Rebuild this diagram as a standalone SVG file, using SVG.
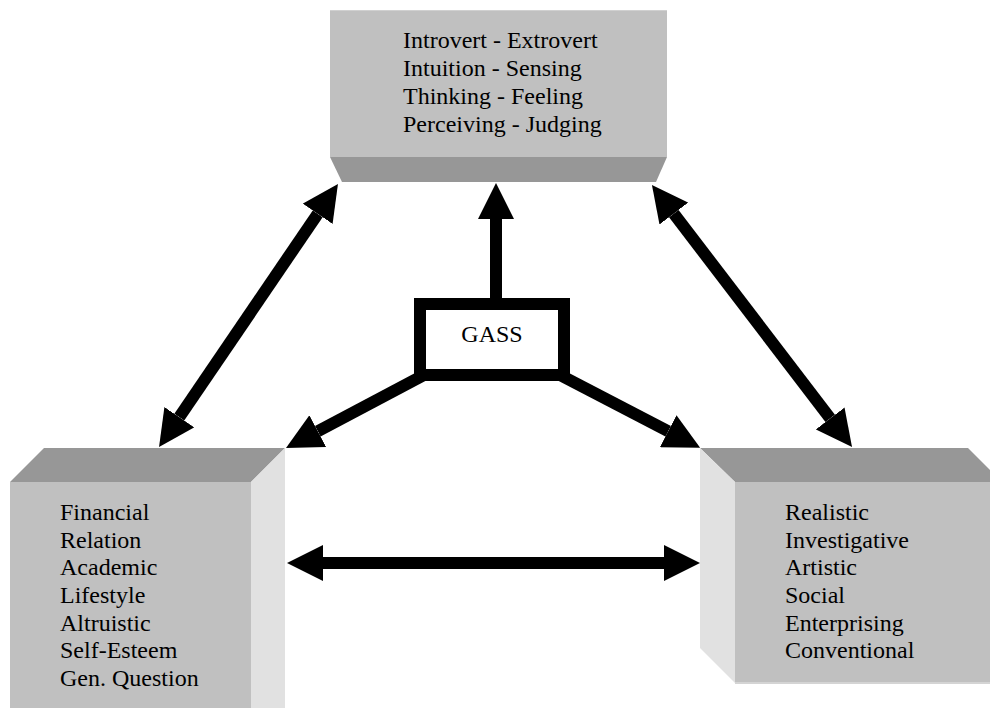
<svg xmlns="http://www.w3.org/2000/svg" width="990" height="708" viewBox="0 0 990 708">
<style>
.front{fill:#c0c0c0}
.dark{fill:#979797}
.light{fill:#e1e1e1}
.t{font-family:"Liberation Serif","Times New Roman",serif;font-size:24px;fill:#000}
.c{stroke:#000;stroke-width:12;fill:none}
</style>
<defs>
<marker id="ah" markerUnits="userSpaceOnUse" markerWidth="36" markerHeight="36" viewBox="0 -18 36 36" refX="0" refY="0" orient="auto-start-reverse">
<path d="M0,-18 L36,0 L0,18 z" fill="#000"/>
</marker>
</defs>
<rect width="990" height="708" fill="#fff"/>
<g id="mbti">
<rect class="front" x="330" y="10" width="337" height="147"/>
<line x1="330" y1="10.5" x2="667" y2="10.5" stroke="#d0d0d0" stroke-width="1"/>
<polygon class="dark" points="330,157 667,157 656,182 342,182"/>
<text class="t" x="403" y="48">Introvert - Extrovert</text>
<text class="t" x="403" y="76">Intuition - Sensing</text>
<text class="t" x="403" y="104">Thinking - Feeling</text>
<text class="t" x="403" y="132">Perceiving - Judging</text>
</g>
<g id="values">
<polygon class="dark" points="44,448 285,448 251,482 10,482"/>
<rect class="front" x="10" y="482" width="241" height="226"/>
<polygon class="light" points="251,482 285,448 285,708 251,708"/>
<text class="t" x="60" y="520">Financial</text>
<text class="t" x="60" y="548">Relation</text>
<text class="t" x="60" y="575">Academic</text>
<text class="t" x="60" y="603">Lifestyle</text>
<text class="t" x="60" y="631">Altruistic</text>
<text class="t" x="60" y="658">Self-Esteem</text>
<text class="t" x="60" y="686">Gen. Question</text>
</g>
<g id="holland">
<polygon class="dark" points="700,448 968,448 1002,482 735,482"/>
<rect class="front" x="735" y="482" width="267" height="201"/>
<line x1="735" y1="683" x2="990" y2="683" stroke="#d4d4d4" stroke-width="2"/>
<polygon class="light" points="700,448 735,482 735,683 700,648"/>
<text class="t" x="785" y="520">Realistic</text>
<text class="t" x="785" y="548">Investigative</text>
<text class="t" x="785" y="575">Artistic</text>
<text class="t" x="785" y="603">Social</text>
<text class="t" x="785" y="631">Enterprising</text>
<text class="t" x="785" y="658">Conventional</text>
</g>
<g id="connectors">
<line class="c" x1="496" y1="300" x2="496" y2="219" marker-end="url(#ah)"/>
<line class="c" x1="179.3" y1="417.2" x2="317.7" y2="213.8" marker-start="url(#ah)" marker-end="url(#ah)"/>
<line class="c" x1="673.8" y1="213.6" x2="830.2" y2="418.4" marker-start="url(#ah)" marker-end="url(#ah)"/>
<line class="c" x1="424" y1="375" x2="317.8" y2="431.2" marker-end="url(#ah)"/>
<line class="c" x1="560" y1="375" x2="668.2" y2="431.2" marker-end="url(#ah)"/>
<line class="c" x1="323" y1="563" x2="664" y2="563" marker-start="url(#ah)" marker-end="url(#ah)"/>
</g>
<g id="gass">
<rect x="420" y="304" width="144" height="71" fill="#fff" stroke="#000" stroke-width="12"/>
<text class="t" x="492" y="342" text-anchor="middle">GASS</text>
</g>
</svg>
